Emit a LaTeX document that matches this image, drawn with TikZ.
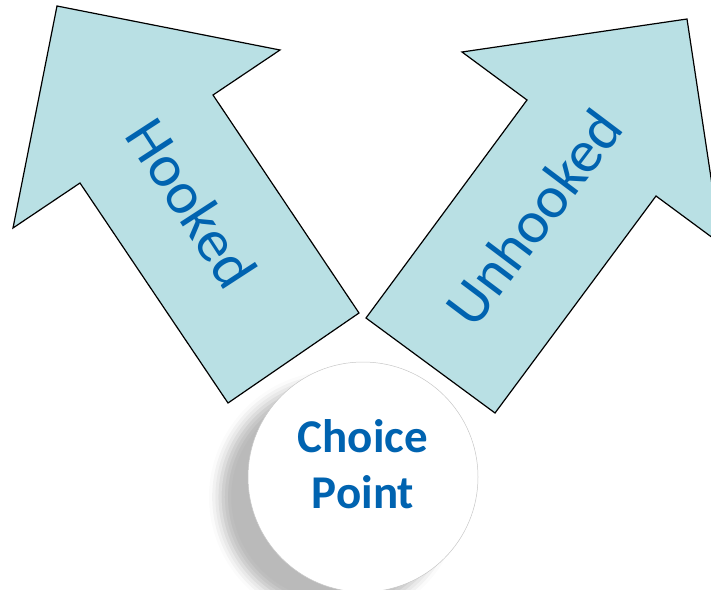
\documentclass[tikz,border=0pt]{standalone}
\usepackage{fontspec}
\usepackage{tikz}
\usetikzlibrary{shadows.blur}
\newfontfamily\carlito{Carlito}
\definecolor{arrowfill}{RGB}{185,224,228}
\definecolor{textblue}{RGB}{0,99,176}

\begin{document}
\begin{tikzpicture}[x=1pt,y=-1pt,
		bigarrow/.style={draw=black,line width=1.2pt,fill=arrowfill},
		arrowtext/.style={text=textblue,font=\carlito\fontsize{60}{72}\selectfont,anchor=base,inner sep=0pt},
		choicecircle/.style={circle,draw=black!22,line width=0.5pt,fill=white,minimum size=230pt,
			blur shadow={shadow xshift=-28pt,shadow yshift=-20pt,shadow blur radius=11pt,shadow opacity=27}},
		choicetext/.style={text=textblue,font=\carlito\bfseries\fontsize{47}{56}\selectfont,align=center,inner sep=0pt}]
		\useasboundingbox (0,0) rectangle (711,589);
		\clip (0,0) rectangle (711,589);
		% left arrow
		\draw[bigarrow] (57,6) -- (280,50) -- (213,95) -- (359,313) -- (228,403) -- (80,183) -- (13,228) -- cycle;
		\node[arrowtext,rotate=-57] (hooked) at (175,214) {Hooked};
		% right arrow
		\draw[bigarrow] (687,19) -- (721,244) -- (656,196) -- (495,413) -- (366,318) -- (527,100) -- (462,52) -- cycle;
		\node[arrowtext,rotate=53] (unhooked) at (550,230) {Unhooked};
		% choice point
		\node[choicecircle] (choice) at (363,477) {};
		\node[choicetext] (choicelabel) at (363,464) {Choice\\Point};
		\end{tikzpicture}
\end{document}
